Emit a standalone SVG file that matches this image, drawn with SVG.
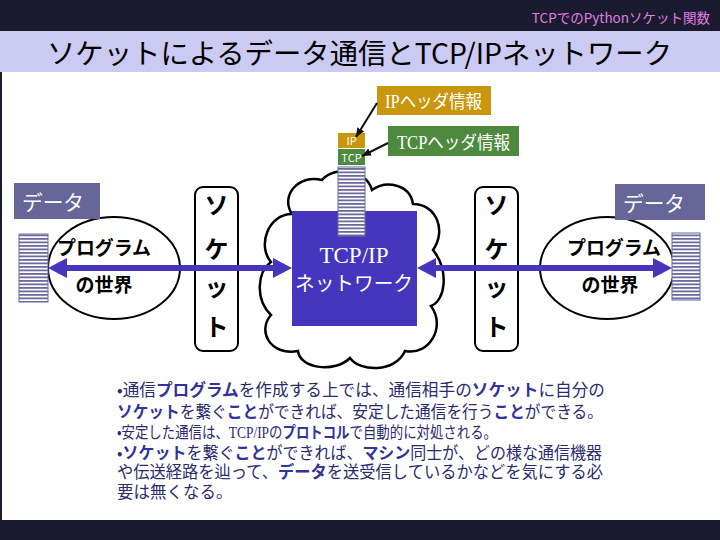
<svg xmlns="http://www.w3.org/2000/svg" width="720" height="540" viewBox="0 0 720 540">
<style>
.jp{font-family:"Noto Sans CJK JP","Liberation Sans",sans-serif}
.ser{font-family:"Liberation Serif","Noto Sans CJK JP",serif}
.wt{fill:#ffffff}
.sock{fill:#ffffff;stroke:#000;stroke-width:2}
.sockt{font-family:"Noto Sans CJK JP",sans-serif;font-weight:bold;font-size:24px;fill:#000;text-anchor:middle}
.prog{font-family:"Noto Sans CJK JP",sans-serif;font-weight:bold;font-size:19px;fill:#000;text-anchor:middle}
.ell{fill:#ffffff;stroke:#000;stroke-width:2}
.data{fill:#666699}
.body{font-family:"Noto Sans CJK JP",sans-serif;font-size:16.5px;fill:#2c2c6c}
.b{font-weight:bold;fill:#333399}
</style>
<defs>
<pattern id="stripes" patternUnits="userSpaceOnUse" width="8" height="3.5">
<rect width="8" height="3.5" fill="#ffffff"/>
<rect y="0" width="8" height="1.8" fill="#6a6a9c"/>
</pattern>
<marker id="bh" markerUnits="userSpaceOnUse" markerWidth="20" markerHeight="22" refX="0" refY="10" orient="auto-start-reverse">
<path d="M0,0 L19,10 L0,20 z" fill="#4636be"/>
</marker>
<marker id="kh" markerUnits="userSpaceOnUse" markerWidth="10" markerHeight="10" refX="9" refY="4" orient="auto">
<path d="M0,0 L9,4 L0,8 z" fill="#111"/>
</marker>
</defs>

<!-- background -->
<rect width="720" height="540" fill="#ffffff"/>
<rect x="0" y="0" width="720" height="31" fill="#1a1b2e"/>
<rect x="0" y="31" width="720" height="41" fill="#cacaf2"/>
<rect x="0" y="72" width="2" height="448" fill="#1a1b2e"/>
<rect x="0" y="520" width="720" height="20" fill="#1a1b2e"/>
<text x="710" y="23" text-anchor="end" class="jp" font-size="13.5" fill="#e27ee2">TCPでのPythonソケット関数</text>
<text x="47" y="64" class="jp" font-size="28" fill="#000" textLength="625" lengthAdjust="spacingAndGlyphs">ソケットによるデータ通信とTCP/IPネットワーク</text>

<!-- cloud -->
<g id="cloud">
<path d="M292 214 C280 196 298 174 322 180 C334 166 366 168 372 190 C386 180 410 184 413 204 C436 204 447 230 433 250 C449 270 446 300 431 306 C446 326 430 356 405 351 C395 373 360 372 350 358 C335 373 300 369 298 351 C270 356 257 331 271 315 C255 300 257 272 271 262 C257 246 268 214 292 214 Z" fill="#ffffff" stroke="#000" stroke-width="2.5"/>
</g>

<!-- network box -->
<g id="network">
<rect x="292" y="211" width="125" height="115" fill="#4636be"/>
<text x="354" y="263" text-anchor="middle" class="ser wt" font-size="23">TCP/IP</text>
<text x="354" y="291" text-anchor="middle" class="jp wt" font-size="20" textLength="118" lengthAdjust="spacingAndGlyphs">ネットワーク</text>
</g>

<!-- packet -->
<g id="packet">
<rect x="338" y="133" width="27" height="15" fill="#c9960e"/>
<text x="351.5" y="145" text-anchor="middle" class="jp wt" font-size="11">IP</text>
<rect x="338" y="149" width="27" height="16" fill="#4e8a3e"/>
<text x="351.5" y="161.5" text-anchor="middle" class="jp wt" font-size="11">TCP</text>
<rect x="338" y="167" width="27" height="69" fill="url(#stripes)" stroke="#6a6a9c" stroke-width="1"/>
</g>

<!-- header labels -->
<g id="ip-label">
<rect x="377" y="86" width="114" height="29" fill="#c9960e"/>
<text x="385" y="108" class="ser wt" font-size="18" textLength="97" lengthAdjust="spacingAndGlyphs">IPヘッダ情報</text>
</g>
<g id="tcp-label">
<rect x="388" y="126" width="131" height="30" fill="#4e8a3e"/>
<text x="397" y="148.5" class="ser wt" font-size="18" textLength="113" lengthAdjust="spacingAndGlyphs">TCPヘッダ情報</text>
</g>

<!-- left program world -->
<g id="left-program">
<ellipse cx="114" cy="268" rx="66" ry="51" class="ell"/>
<text x="104" y="255" class="prog" textLength="94" lengthAdjust="spacingAndGlyphs">プログラム</text>
<text x="104" y="292" class="prog">の世界</text>
</g>
<g id="left-data">
<rect x="19" y="234" width="29" height="68" fill="url(#stripes)" stroke="#6a6a9c" stroke-width="1"/>
<rect x="14" y="183" width="86" height="36" class="data"/>
<text x="22" y="210" class="jp wt" font-size="21" textLength="62" lengthAdjust="spacingAndGlyphs">データ</text>
</g>
<g id="left-socket">
<rect x="195" y="187" width="43" height="164" rx="8" class="sock"/>
<text x="216.5" y="214" class="sockt">ソ</text>
<text x="216.5" y="258" class="sockt">ケ</text>
<text x="216.5" y="296" class="sockt">ッ</text>
<text x="216.5" y="336" class="sockt">ト</text>
</g>

<!-- right program world -->
<g id="right-program">
<ellipse cx="607" cy="268" rx="67" ry="51" class="ell"/>
<text x="614" y="255" class="prog" textLength="94" lengthAdjust="spacingAndGlyphs">プログラム</text>
<text x="610" y="292" class="prog">の世界</text>
</g>
<g id="right-data">
<rect x="672" y="233" width="28" height="67" fill="url(#stripes)" stroke="#6a6a9c" stroke-width="1"/>
<rect x="615" y="184" width="90" height="36" class="data"/>
<text x="623" y="211" class="jp wt" font-size="21" textLength="62" lengthAdjust="spacingAndGlyphs">データ</text>
</g>
<g id="right-socket">
<rect x="475" y="187" width="43" height="164" rx="8" class="sock"/>
<text x="496.5" y="214" class="sockt">ソ</text>
<text x="496.5" y="258" class="sockt">ケ</text>
<text x="496.5" y="296" class="sockt">ッ</text>
<text x="496.5" y="336" class="sockt">ト</text>
</g>

<!-- connectors -->
<g id="connectors">
<line x1="67" y1="268" x2="273" y2="268" stroke="#4636be" stroke-width="6" marker-start="url(#bh)" marker-end="url(#bh)"/>
<line x1="436" y1="268" x2="653" y2="268" stroke="#4636be" stroke-width="6" marker-start="url(#bh)" marker-end="url(#bh)"/>
<line x1="377" y1="103" x2="356" y2="137" stroke="#111" stroke-width="2" marker-end="url(#kh)"/>
<line x1="388" y1="143" x2="362" y2="156" stroke="#111" stroke-width="2" marker-end="url(#kh)"/>
</g>

<!-- notes -->
<g id="notes">
<text x="117" y="396" class="body" textLength="488" lengthAdjust="spacingAndGlyphs">•通信<tspan class="b">プログラム</tspan>を作成する上では、通信相手の<tspan class="b">ソケット</tspan>に自分の</text>
<text x="117" y="418" class="body" textLength="486" lengthAdjust="spacingAndGlyphs"><tspan class="b">ソケット</tspan>を繋ぐ<tspan class="b">こと</tspan>ができれば、安定した通信を行う<tspan class="b">こと</tspan>ができる。</text>
<text x="117" y="438" class="body" textLength="380" lengthAdjust="spacingAndGlyphs" style="font-size:16px">•安定した通信は、<tspan font-family="Liberation Serif">TCP/IP</tspan>の<tspan class="b">プロトコル</tspan>で自動的に対処される。</text>
<text x="117" y="459" class="body" textLength="485" lengthAdjust="spacingAndGlyphs">•<tspan class="b">ソケット</tspan>を繋ぐ<tspan class="b">こと</tspan>ができれば、<tspan class="b">マシン</tspan>同士が、どの様な通信機器</text>
<text x="117" y="478" class="body" textLength="486" lengthAdjust="spacingAndGlyphs">や伝送経路を辿って、<tspan class="b">データ</tspan>を送受信しているかなどを気にする必</text>
<text x="117" y="498" class="body">要は無くなる。</text>
</g>
</svg>
